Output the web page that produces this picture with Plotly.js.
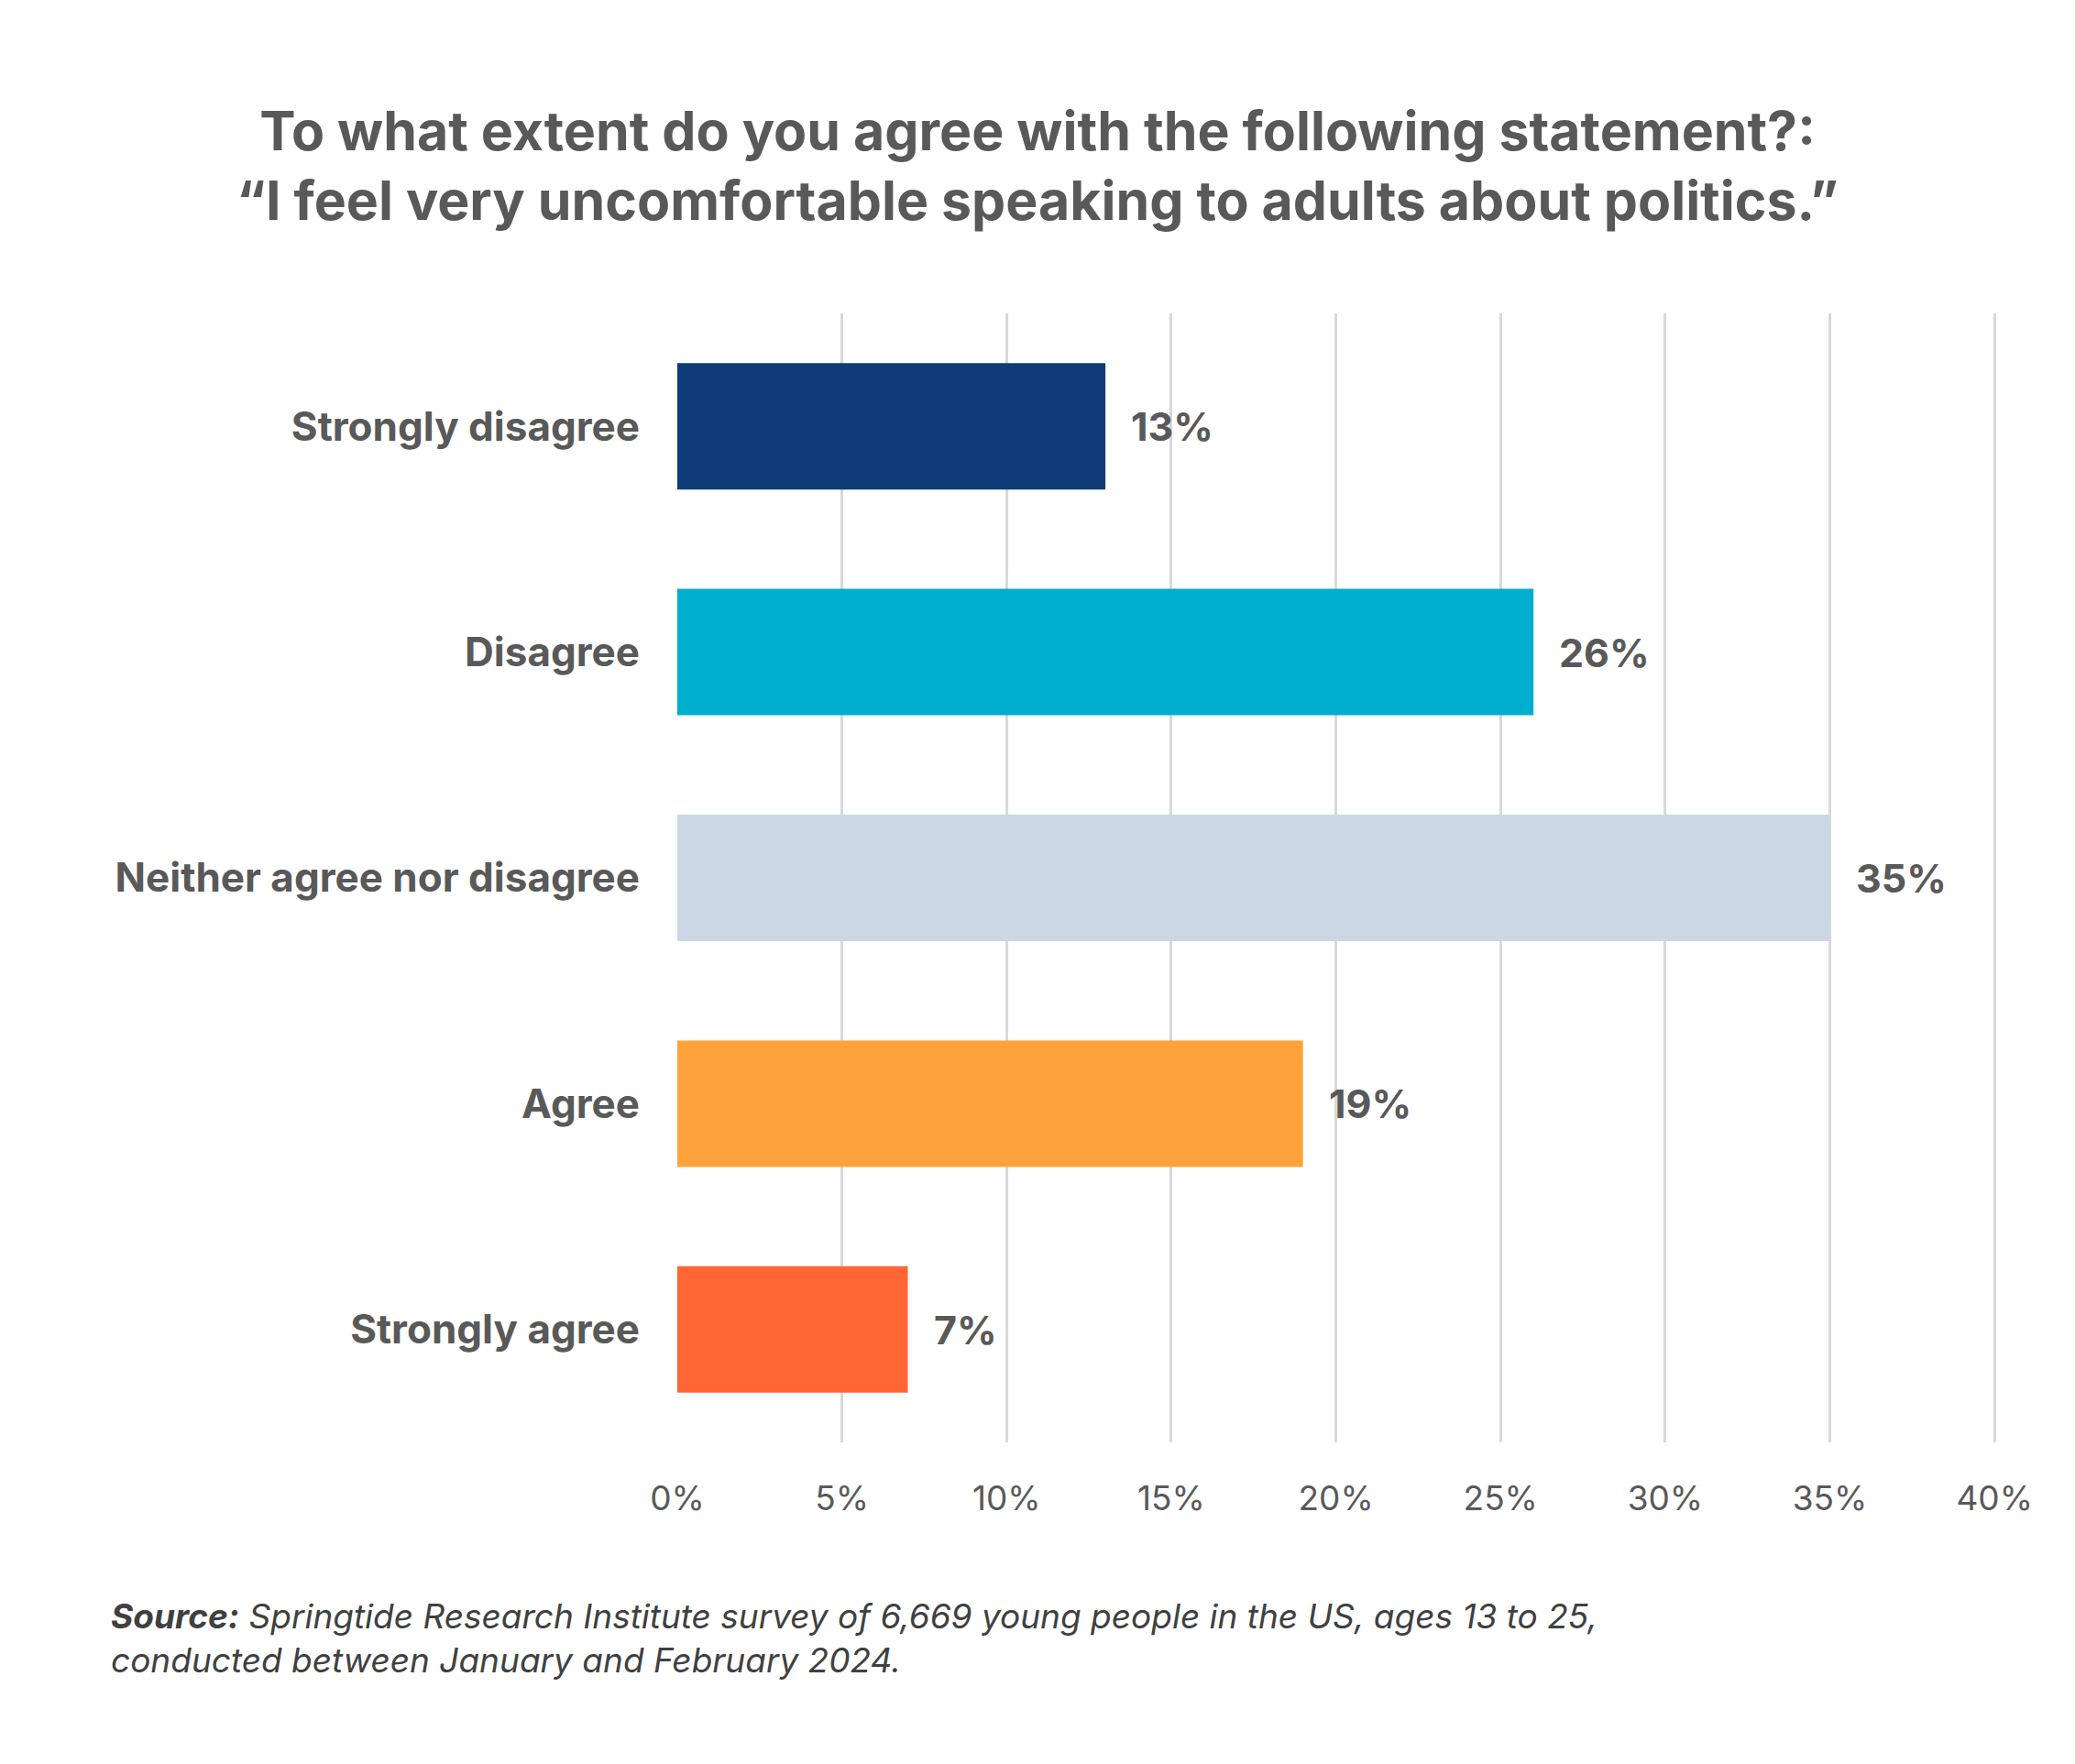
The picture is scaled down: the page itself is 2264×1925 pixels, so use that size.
<!DOCTYPE html>
<html>
<head>
<meta charset="utf-8">
<script src="https://cdn.plot.ly/plotly-3.0.1.min.js"></script>
<style>
  html, body { margin: 0; padding: 0; background: #ffffff; }
  #chart { width: 2264px; height: 1925px; }
</style>
</head>
<body>
<div id="chart"></div>
<script>
// survey answers, top to bottom
var categories = ['Strongly disagree', 'Disagree', 'Neither agree nor disagree', 'Agree', 'Strongly agree'];
var shares = [13, 26, 35, 19, 7];
var barColors = ['#0F3B78', '#00AECF', '#CAD7E5', '#FDA33A', '#FF6633'];
var tickValues = [0, 5, 10, 15, 20, 25, 30, 35, 40];
var tickLabels = ['0%', '5%', '10%', '15%', '20%', '25%', '30%', '35%', '40%'];

var fontFamily = 'Inter, "Open Sans", sans-serif';
var grey = '#595959';

var bars = {
	type: 'bar',
	orientation: 'h',
	x: shares,
	y: categories,
	marker: { color: barColors, line: { width: 0 } },
	width: 0.56,
	hoverinfo: 'none'
};

// value labels sit just right of each bar
var valueLabels = shares.map(function (v, i) {
	return {
		x: v,
		y: categories[i],
		xref: 'x',
		yref: 'y',
		text: v + '%',
		showarrow: false,
		xanchor: 'left',
		yanchor: 'middle',
		xshift: 26,
		font: { family: fontFamily, size: 43, color: grey, weight: 700 }
	};
});

var sourceNote = {
	xref: 'paper',
	yref: 'paper',
	x: -0.431,
	y: -0.134,
	xanchor: 'left',
	yanchor: 'top',
	align: 'left',
	showarrow: false,
	text: '<b><i>Source:</i></b><i> Springtide Research Institute survey of 6,669 young people in the US, ages 13 to 25,</i><br><i>conducted between January and February 2024.</i>',
	font: { family: fontFamily, size: 37, color: '#404040' }
};

var layout = {
	width: 2264,
	height: 1925,
	paper_bgcolor: '#ffffff',
	plot_bgcolor: '#ffffff',
	showlegend: false,
	margin: { l: 739, r: 86, t: 342, b: 351 },
	title: {
		text: 'To what extent do you agree with the following statement?:<br>\u201cI feel very uncomfortable speaking to adults about politics.\u201d',
		x: 0.5,
		xanchor: 'center',
		y: 0.915,
		yanchor: 'top',
		font: { family: fontFamily, size: 59, color: grey, weight: 700 }
	},
	xaxis: {
		range: [0, 40.05],
		tickvals: tickValues,
		ticktext: tickLabels,
		showgrid: true,
		gridcolor: '#D9D9D9',
		gridwidth: 3,
		zeroline: false,
		showline: false,
		ticks: '',
		ticklabelstandoff: 36,
		tickfont: { family: fontFamily, size: 37, color: grey }
	},
	yaxis: {
		type: 'category',
		autorange: 'reversed',
		range: [4.5, -0.5],
		showgrid: false,
		zeroline: false,
		showline: false,
		ticks: '',
		ticklabelstandoff: 40,
		tickfont: { family: fontFamily, size: 44, color: grey, weight: 700 }
	},
	annotations: valueLabels.concat([sourceNote])
};

Plotly.newPlot('chart', [bars], layout, { staticPlot: true });
</script>
</body>
</html>
